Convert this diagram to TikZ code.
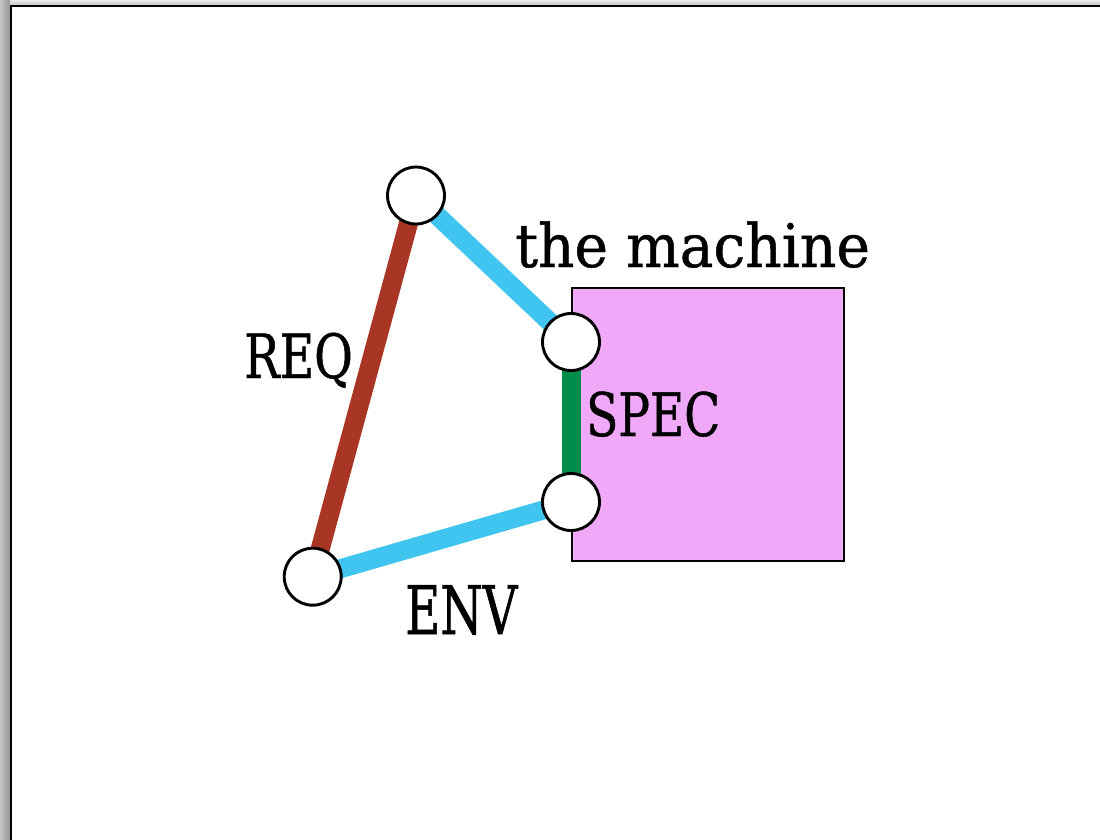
\documentclass[tikz,border=0pt]{standalone}
\usepackage{fontspec}
\setmainfont{DejaVu Serif Condensed}
\definecolor{reqred}{RGB}{169,54,36}
\definecolor{envblue}{RGB}{64,196,240}
\definecolor{specgreen}{RGB}{0,140,74}
\definecolor{machinepink}{RGB}{240,168,248}
\newcommand{\labelface}[2]{\fontsize{#1}{#1}\selectfont\addfontfeatures{FakeStretch=#2,FakeBold=0.8}}
\tikzset{
  port/.style={circle, draw=black, line width=2.9pt, fill=white, minimum size=57pt, inner sep=0pt},
  link/.style={line width=19pt},
  lbl/.style 2 args={inner sep=0pt, anchor=base west, font=\labelface{#1}{#2}},
}
\begin{document}
\begin{tikzpicture}[x=1pt, y=-1pt]
  \useasboundingbox (0,0) rectangle (1100,840);
  % page shadow and frame
  \shade[left color=black!22, right color=black!42] (0,0) rectangle (10,840);
  \shade[top color=black!8, bottom color=black!22] (10,0) rectangle (1100,5);
  \draw[line width=2.5pt] (11,840) -- (11,6.2) -- (1100,6.2);
  % the machine
  \node[draw=black, line width=2.2pt, fill=machinepink, minimum width=272pt, minimum height=273pt, anchor=north west, inner sep=0pt] (machine) at (571,287) {};
  % ports
  \coordinate (pt) at (416,195.5);
  \coordinate (pbl) at (312.7,576.7);
  \coordinate (pru) at (571,342);
  \coordinate (prl) at (571,502);
  % links
  \draw[link, reqred] (pt) -- (pbl);
  \draw[link, envblue] (pt) -- (pru);
  \draw[link, envblue] (pbl) -- (prl);
  \draw[link, specgreen] (pru) -- (prl);
  \node[port] (top) at (pt) {};
  \node[port] (botleft) at (pbl) {};
  \node[port] (rightup) at (pru) {};
  \node[port] (rightlow) at (prl) {};
  % labels
  \node[lbl={61}{0.86}] (req) at (244,378) {REQ};
  \node[lbl={60}{0.87}] (spec) at (586,436) {SPEC};
  \node[lbl={67}{0.80}] (env) at (405,634) {ENV};
  \node[lbl={60}{1.05}] (title) at (515,267) {the machine};
\end{tikzpicture}
\end{document}
